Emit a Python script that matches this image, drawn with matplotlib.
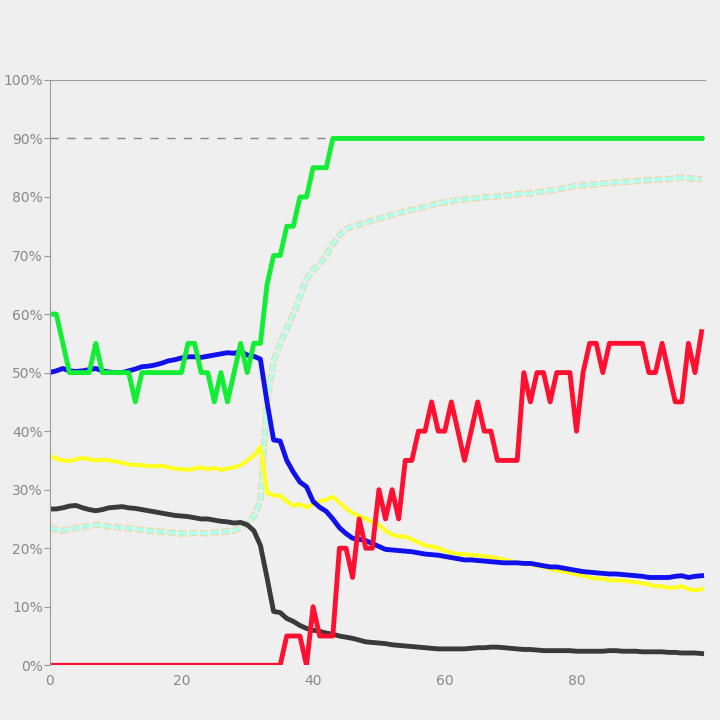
import matplotlib
matplotlib.use("Agg")
import matplotlib.pyplot as plt
import matplotlib.patheffects as pe
from matplotlib.ticker import FuncFormatter

x = list(range(100))
green = [60,60,55,50,50,50,50,55,50,50,
         50,50,50,45,50,50,50,50,50,50,
         50,55,55,50,50,45,50,45,50,55,
         50,55,55,65,70,70,75,75,80,80,
         85,85,85] + [90]*57
blue = [50,50.3,50.7,50.3,50.2,50.3,50.5,50.7,50.3,50.1,
        50,50,50.3,50.6,51,51.1,51.3,51.6,52,52.2,
        52.5,52.7,52.7,52.6,52.8,53,53.2,53.4,53.3,53.6,
        53,52.8,52.3,45,38.5,38.3,35,33,31.3,30.5,
        28,27,26.3,25,23.5,22.5,21.7,21.5,21.3,20.8,
        20.3,19.8,19.7,19.6,19.5,19.4,19.2,19,18.9,18.8,
        18.6,18.4,18.2,18,18,17.9,17.8,17.7,17.6,17.5,
        17.5,17.5,17.4,17.4,17.2,17,16.8,16.8,16.6,16.4,
        16.2,16,15.9,15.8,15.7,15.6,15.6,15.5,15.4,15.3,
        15.2,15,15,15,15,15.2,15.3,15,15.2,15.3]
yellow = [35.8,35.3,35,34.9,35.2,35.4,35.2,35,35.1,35,
          34.8,34.6,34.3,34.2,34.2,34,34,34.1,33.8,33.6,
          33.5,33.4,33.6,33.8,33.5,33.7,33.4,33.6,33.8,34.2,
          35,35.8,37.3,29.5,29,29,28,27.3,27.5,27,
          27.5,28,28.3,28.8,27.8,26.8,26,25.5,25,24.5,
          24,23,22.3,22,22,21.5,21,20.5,20.3,20,
          19.6,19.2,19,19,18.8,18.8,18.6,18.5,18.3,18,
          17.8,17.5,17.3,17.3,17,16.8,16.5,16.2,16,15.8,
          15.5,15.3,15,14.8,14.8,14.5,14.5,14.5,14.3,14.2,
          14,13.8,13.5,13.5,13.2,13.3,13.5,13,12.8,13]
black = [26.7,26.7,26.9,27.2,27.3,26.9,26.6,26.4,26.6,26.9,
         27,27.1,26.9,26.8,26.6,26.4,26.2,26,25.8,25.6,
         25.5,25.4,25.2,25,25,24.8,24.6,24.5,24.3,24.4,
         24,23,20.5,15,9.2,9,8,7.5,6.8,6.3,
         6,5.8,5.5,5.3,5,4.8,4.6,4.3,4,3.9,
         3.8,3.7,3.5,3.4,3.3,3.2,3.1,3,2.9,2.8,
         2.8,2.8,2.8,2.8,2.9,3,3,3.1,3.1,3,
         2.9,2.8,2.7,2.7,2.6,2.5,2.5,2.5,2.5,2.5,
         2.4,2.4,2.4,2.4,2.4,2.5,2.5,2.4,2.4,2.4,
         2.3,2.3,2.3,2.3,2.2,2.2,2.1,2.1,2.1,2]
red = [0]*36 + [5,5,5,0,10,5,5,5,20,20,15,25,20,20,30,25,30,25,35,35,
        40,40,45,40,40,45,40,35,40,45,40,40,35,35,35,35,50,45,50,50,
        45,50,50,50,40,50,55,55,50,55,55,55,55,55,55,50,50,55,50,45,
        45,55,50,57]
cyan = [23.5,23.2,23,23.2,23.5,23.6,23.8,24,23.9,23.7,
        23.6,23.5,23.4,23.3,23.1,23,22.9,22.8,22.7,22.6,
        22.5,22.5,22.6,22.6,22.5,22.7,22.8,22.9,23,23.5,
        24.3,25.5,28,45,52,55,57.5,60,63,66,
        67.5,68.5,70,72,73.5,74.5,75,75.3,75.6,76,
        76.3,76.6,77,77.3,77.5,77.8,78,78.3,78.6,78.9,
        79.1,79.3,79.5,79.6,79.7,79.8,80,80,80.1,80.2,
        80.3,80.5,80.5,80.6,80.8,81,81.1,81.3,81.5,81.7,
        81.9,82,82.1,82.2,82.3,82.4,82.5,82.6,82.6,82.7,
        82.8,82.9,83,83,83.1,83.2,83.3,83.2,83.1,83]

bg = '#efefef'
fig = plt.figure(figsize=(7.2, 7.2), dpi=100, facecolor=bg)
ax = fig.add_axes([0.069, 0.076, 0.91, 0.813], facecolor=bg)
ax.axhline(90, color='#888888', lw=1, ls=(0, (6, 6)))
ax.plot(x, cyan, color='#b0fff0', lw=3, ls=(0, (2, 0.6)),
        path_effects=[pe.Stroke(linewidth=4.5, foreground='#f2d49a'), pe.Normal()])
ax.plot(x, yellow, color='#ffff22', lw=3)
ax.plot(x, black, color='#3a3a3a', lw=3.5)
ax.plot(x, blue, color='#1111ee', lw=3.5)
ax.plot(x, red, color='#ff1030', lw=3.5)
ax.plot(x, green, color='#11ee33', lw=3.5)
ax.set_xlim(0, 99.5)
ax.set_ylim(0, 100)
ax.set_yticks(range(0, 101, 10))
ax.yaxis.set_major_formatter(FuncFormatter(lambda v, p: f"{int(v)}%"))
ax.set_xticks([0, 20, 40, 60, 80])
for s in ['right', 'bottom']:
    ax.spines[s].set_visible(False)
for s in ['left', 'top']:
    ax.spines[s].set_color('#999999')
ax.tick_params(axis='y', length=4, color='#999999', labelcolor='#888888', labelsize=10, pad=1)
ax.tick_params(axis='x', length=0, labelcolor='#888888', labelsize=10, pad=6)
fig.savefig('out.png', dpi=100, facecolor=bg)
